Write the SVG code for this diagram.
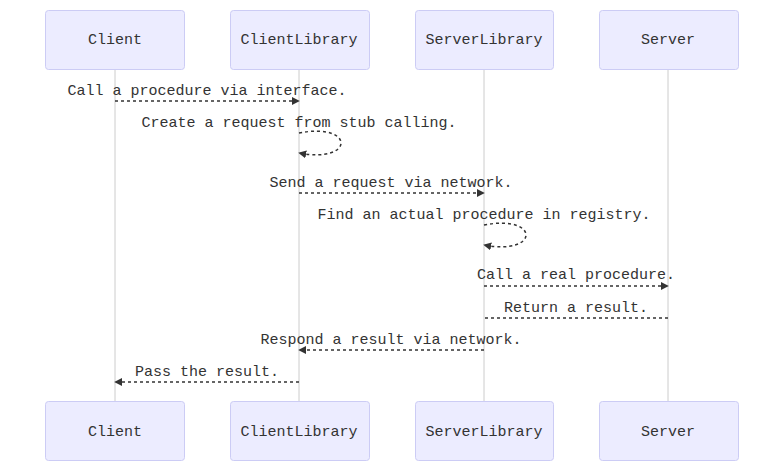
<svg xmlns="http://www.w3.org/2000/svg" width="784" height="462" viewBox="0 0 784 462">
<defs>
<marker id="arr" viewBox="0 0 10 10" refX="9" refY="5" markerWidth="8" markerHeight="8" markerUnits="userSpaceOnUse" orient="auto">
<path d="M0,0 L10,5 L0,10 z" fill="#333"/>
</marker>
<style>
.actor{fill:#ececff;stroke:#ccccf5;stroke-width:1}
.atext{font-family:"Liberation Mono","Courier New",monospace;font-size:15px;fill:#333;text-anchor:middle;dominant-baseline:central}
.life{stroke:#cccccc;stroke-width:1}
.msg{stroke:#333;stroke-width:1.5;stroke-dasharray:3,3;fill:none}
.mtext{font-family:"Liberation Mono","Courier New",monospace;font-size:15px;fill:#333;text-anchor:middle}
</style>
</defs>
<rect width="784" height="462" fill="#ffffff"/>
<g id="lifelines">
<line class="life" x1="115" y1="69" x2="115" y2="401"/>
<line class="life" x1="299" y1="69" x2="299" y2="401"/>
<line class="life" x1="484" y1="69" x2="484" y2="401"/>
<line class="life" x1="668" y1="69" x2="668" y2="401"/>
</g>
<g id="client-top"><rect class="actor" x="45.5" y="10.5" width="139" height="59" rx="3"/><text class="atext" x="115" y="40">Client</text></g>
<g id="clientlib-top"><rect class="actor" x="230.5" y="10.5" width="139" height="59" rx="3"/><text class="atext" x="299" y="40">ClientLibrary</text></g>
<g id="serverlib-top"><rect class="actor" x="415.5" y="10.5" width="138" height="59" rx="3"/><text class="atext" x="484" y="40">ServerLibrary</text></g>
<g id="server-top"><rect class="actor" x="599.5" y="10.5" width="139" height="59" rx="3"/><text class="atext" x="668" y="40">Server</text></g>
<g id="client-bottom"><rect class="actor" x="45.5" y="401.5" width="139" height="59" rx="3"/><text class="atext" x="115" y="432">Client</text></g>
<g id="clientlib-bottom"><rect class="actor" x="230.5" y="401.5" width="139" height="59" rx="3"/><text class="atext" x="299" y="432">ClientLibrary</text></g>
<g id="serverlib-bottom"><rect class="actor" x="415.5" y="401.5" width="138" height="59" rx="3"/><text class="atext" x="484" y="432">ServerLibrary</text></g>
<g id="server-bottom"><rect class="actor" x="599.5" y="401.5" width="139" height="59" rx="3"/><text class="atext" x="668" y="432">Server</text></g>
<g id="connectors">
<line class="msg" x1="115" y1="101" x2="299" y2="101" marker-end="url(#arr)"/>
<path class="msg" d="M299,133 C355,122 355,164 299,153" marker-end="url(#arr)"/>
<line class="msg" x1="299" y1="193" x2="484" y2="193" marker-end="url(#arr)"/>
<path class="msg" d="M484,225 C540,214 540,256 484,245" marker-end="url(#arr)"/>
<line class="msg" x1="484" y1="286" x2="668" y2="286" marker-end="url(#arr)"/>
<line class="msg" x1="668" y1="318" x2="484" y2="318"/>
<line class="msg" x1="484" y1="350" x2="299" y2="350" marker-end="url(#arr)"/>
<line class="msg" x1="299" y1="382" x2="115" y2="382" marker-end="url(#arr)"/>
</g>
<g id="labels">
<text class="mtext" x="207" y="95">Call a procedure via interface.</text>
<text class="mtext" x="299" y="127">Create a request from stub calling.</text>
<text class="mtext" x="391" y="187">Send a request via network.</text>
<text class="mtext" x="484" y="219">Find an actual procedure in registry.</text>
<text class="mtext" x="576" y="279">Call a real procedure.</text>
<text class="mtext" x="576" y="312">Return a result.</text>
<text class="mtext" x="391" y="344">Respond a result via network.</text>
<text class="mtext" x="207" y="376">Pass the result.</text>
</g>
</svg>
